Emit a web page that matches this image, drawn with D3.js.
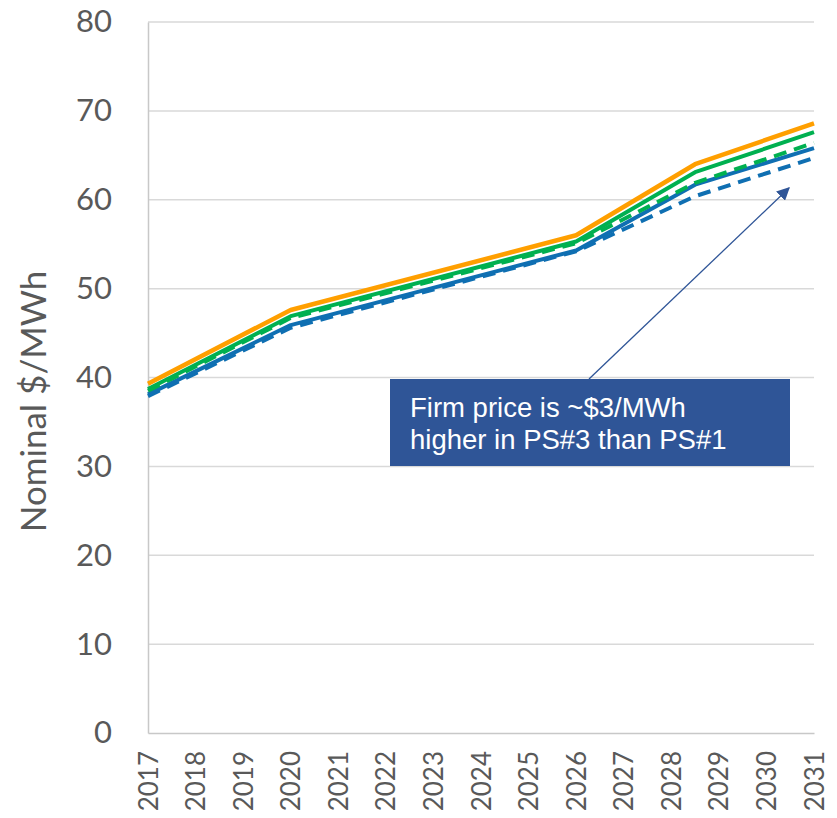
<!DOCTYPE html>
<html>
<head>
<meta charset="utf-8">
<script src="https://cdn.jsdelivr.net/npm/d3@7"></script>
<style>
  html, body { margin: 0; padding: 0; background: #fff; }
  svg { display: block; }
</style>
</head>
<body>
<svg id="chart" width="837" height="818"></svg>
<script>
// Forecast years where the price path changes slope
const years = [2017, 2020, 2026, 2028.5, 2031];
// Year labels shown along the bottom axis
const yearTicks = [2017, 2018, 2019, 2020, 2021, 2022, 2023, 2024, 2025, 2026, 2027, 2028, 2029, 2030, 2031];
// Value ticks on the vertical axis
const valueTicks = [0, 10, 20, 30, 40, 50, 60, 70, 80];

// Firm price paths, nominal $/MWh
const orangePath      = [39.3, 47.6, 56.0, 64.0, 68.6];
const greenPath       = [38.7, 46.9, 55.3, 63.1, 67.6];
const greenDashedPath = [38.5, 46.7, 55.1, 61.9, 66.4];
const bluePath        = [38.1, 45.9, 54.3, 61.7, 65.8];
const blueDashedPath  = [37.9, 45.6, 54.2, 60.4, 64.7];

const series = [
  { name: "blueDashed",  values: blueDashedPath,  color: "#0F6FB2", width: 4,   dash: "13,8" },
  { name: "blue",        values: bluePath,        color: "#0F6FB2", width: 4,   dash: null },
  { name: "greenDashed", values: greenDashedPath, color: "#00B050", width: 4,   dash: "13,8" },
  { name: "green",       values: greenPath,       color: "#00B050", width: 4,   dash: null },
  { name: "orange",      values: orangePath,      color: "#FF9F00", width: 4.5, dash: null }
];

const W = 837, H = 818;
const margin = { top: 22, right: 23, bottom: 85, left: 148 };
const svg = d3.select("#chart");

const x = d3.scaleLinear().domain([2017, 2031]).range([margin.left, W - margin.right]);
const y = d3.scaleLinear().domain([0, 80]).range([H - margin.bottom, margin.top]);

const textColor = "#595959";
const tickFont = "Lato, 'Open Sans', sans-serif";

// Horizontal gridlines
svg.append("g")
  .selectAll("line")
  .data(valueTicks.filter(v => v > 0))
  .join("line")
  .attr("x1", x(2017)).attr("x2", x(2031))
  .attr("y1", d => y(d)).attr("y2", d => y(d))
  .attr("stroke", "#D9D9D9").attr("stroke-width", 1.5);

// Vertical axis with labels
const yAxis = svg.append("g")
  .attr("transform", `translate(${margin.left},0)`)
  .call(d3.axisLeft(y).tickValues(valueTicks).tickSize(0).tickPadding(36));
yAxis.select(".domain").attr("stroke", "#C8C8C8").attr("stroke-width", 1.5);
yAxis.selectAll("text")
  .attr("fill", textColor)
  .style("font-family", tickFont)
  .style("font-size", "31px");

// Bottom axis with rotated year labels
const xAxis = svg.append("g")
  .attr("transform", `translate(0,${H - margin.bottom})`)
  .call(d3.axisBottom(x).tickValues(yearTicks).tickFormat(d3.format("d")).tickSize(0));
xAxis.select(".domain").attr("stroke", "#C8C8C8").attr("stroke-width", 1.5);
xAxis.selectAll("text")
  .attr("fill", textColor)
  .style("font-family", tickFont)
  .style("font-size", "26px")
  .attr("text-anchor", "end")
  .attr("dy", "0.35em")
  .attr("transform", "translate(0,18) rotate(-90)")
  .attr("x", 0).attr("y", 0);

// Axis title
svg.append("text")
  .attr("transform", `translate(46,${(y(0) + y(80)) / 2 + 24}) rotate(-90)`)
  .attr("text-anchor", "middle")
  .attr("fill", textColor)
  .style("font-family", tickFont)
  .style("font-size", "35px")
  .text("Nominal $/MWh");

// Price lines
const line = d3.line()
  .x((d, i) => x(years[i]))
  .y(d => y(d));

svg.append("g")
  .selectAll("path")
  .data(series)
  .join("path")
  .attr("d", d => line(d.values))
  .attr("fill", "none")
  .attr("stroke", d => d.color)
  .attr("stroke-width", d => d.width)
  .attr("stroke-dasharray", d => d.dash)
  .attr("stroke-linejoin", "round");

// Callout box
const boxColor = "#2F5597";
const box = { x0: 390, x1: 790, y0: 379, y1: 466 };
svg.append("rect")
  .attr("x", box.x0).attr("y", box.y0)
  .attr("width", box.x1 - box.x0).attr("height", box.y1 - box.y0)
  .attr("fill", boxColor);

const calloutLines = ["Firm price is ~$3/MWh", "higher in PS#3 than PS#1"];
svg.append("g")
  .selectAll("text")
  .data(calloutLines)
  .join("text")
  .attr("x", 410)
  .attr("y", (d, i) => 417 + i * 32)
  .attr("fill", "#fff")
  .style("font-family", "'Liberation Sans', Arial, sans-serif")
  .style("font-size", "27.5px")
  .text(d => d);

// Arrow from callout to the gap between the paths
svg.append("defs").append("marker")
  .attr("id", "arrowhead")
  .attr("viewBox", "0 0 10 10")
  .attr("refX", 9).attr("refY", 5)
  .attr("markerWidth", 13).attr("markerHeight", 13)
  .attr("markerUnits", "userSpaceOnUse")
  .attr("orient", "auto")
  .append("path")
  .attr("d", "M0,0 L10,5 L0,10 Z")
  .attr("fill", boxColor);

svg.append("line")
  .attr("x1", 589).attr("y1", box.y0)
  .attr("x2", 789).attr("y2", 188)
  .attr("stroke", boxColor)
  .attr("stroke-width", 1.3)
  .attr("marker-end", "url(#arrowhead)");
</script>
</body>
</html>
